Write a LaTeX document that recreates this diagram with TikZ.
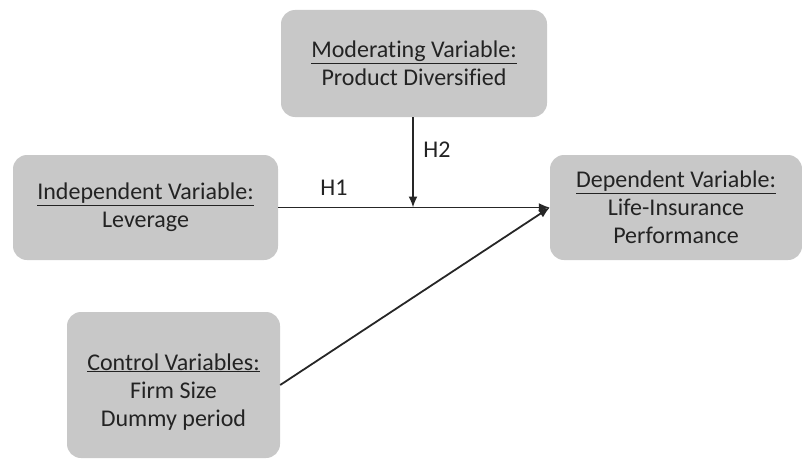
\documentclass[tikz,border=0pt]{standalone}
\usepackage{fontspec}
\setmainfont[Ligatures=NoCommon]{Carlito}
\usetikzlibrary{arrows.meta}
\definecolor{boxgray}{RGB}{200,200,200}
\definecolor{txt}{RGB}{35,35,35}
\begin{document}
\begin{tikzpicture}[x=1pt,y=-1pt,
  varbox/.style={fill=boxgray, draw=none, rounded corners=14pt, inner sep=0pt,
    align=center, text=txt, font=\fontsize{24}{28}\selectfont},
  conn/.style={draw=black!85, line width=1.8pt, -{Latex[length=11pt,width=9pt]}},
  lbl/.style={text=txt, font=\fontsize{24}{28}\selectfont, inner sep=0pt}]
\useasboundingbox (0,0) rectangle (802,460);
\node[varbox, minimum width=266pt, minimum height=107pt] (mod) at (414,63.5)
  {\underline{Moderating Variable:}\\Product Diversified};
\node[varbox, minimum width=265pt, minimum height=105pt] (ind) at (145.5,207.5)
  {\underline{Independent Variable:}\\Leverage};
\node[varbox, minimum width=252pt, minimum height=105pt] (dep) at (676,207.5)
  {\underline{Dependent Variable:}\\Life-Insurance\\Performance};
\node[varbox, minimum width=213pt, minimum height=146pt] (ctl) at (173.5,385)
  {\rule{0pt}{30pt}\underline{Control Variables:}\\Firm Size\\Dummy period};
\coordinate (tip) at (dep.west);
\coordinate (mid) at (413,207.5);
\draw[conn] (ind.east) -- (tip);
\draw[conn] (mod.south -| mid) -- (mid);
\draw[conn] (ctl.east) -- (tip);
\node[lbl] (h1) at (334,188) {H1};
\node[lbl] (h2) at (437,150) {H2};
\end{tikzpicture}
\end{document}
